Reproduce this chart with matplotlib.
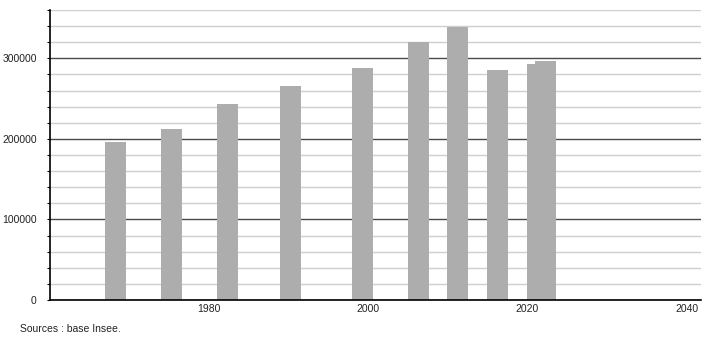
import matplotlib
matplotlib.use("Agg")
import matplotlib.pyplot as plt
from matplotlib.ticker import MultipleLocator

plt.rcParams['font.family'] = ['Liberation Sans', 'DejaVu Sans']

years = [1968, 1975, 1982, 1990, 1999, 2006, 2011, 2016, 2021, 2022]
population = [196000, 212000, 243000, 265500, 288000, 320500, 339500, 285500, 293000, 297000]
x_ticks = [1980, 2000, 2020, 2040]
y_ticks = [0, 100000, 200000, 300000]
source_text = "Sources : base Insee."

fig = plt.figure(figsize=(7.1, 3.4), dpi=100)
ax = fig.add_axes([50/710, 40/340, 651/710, 290/340])

ax.set_xlim(1960, 2041.8)
ax.set_ylim(0, 360000)

# gridlines
ax.yaxis.set_minor_locator(MultipleLocator(20000))
ax.set_yticks(y_ticks)
ax.set_yticklabels([str(v) for v in y_ticks])
ax.grid(which='minor', axis='y', color='#cfcfcf', linewidth=1.0, zorder=0)
ax.grid(which='major', axis='y', color='#4a4a4a', linewidth=1.0, zorder=0.5)
ax.set_axisbelow(True)

bar_offset = 0.25
ax.bar([y + bar_offset for y in years], population, width=2.64,
       color='#adadad', zorder=2, linewidth=0)

ax.set_xticks(x_ticks)
ax.set_xticklabels([str(v) for v in x_ticks])
ax.tick_params(axis='x', length=0, pad=3, labelsize=7.5, colors='#222222')
ax.tick_params(axis='y', which='both', direction='out', length=2.5, width=0.8,
               pad=7, labelsize=7.5, colors='#222222')
ax.tick_params(axis='y', which='both', color='black')

for s in ['top', 'right']:
    ax.spines[s].set_visible(False)
for s in ['left', 'bottom']:
    ax.spines[s].set_color('black')
    ax.spines[s].set_linewidth(1.2)

fig.text(20/710, 1 - 329/340, source_text, fontsize=7.5, color='#222222',
         ha='left', va='center')

fig.savefig("out.png", dpi=100, facecolor='white')
